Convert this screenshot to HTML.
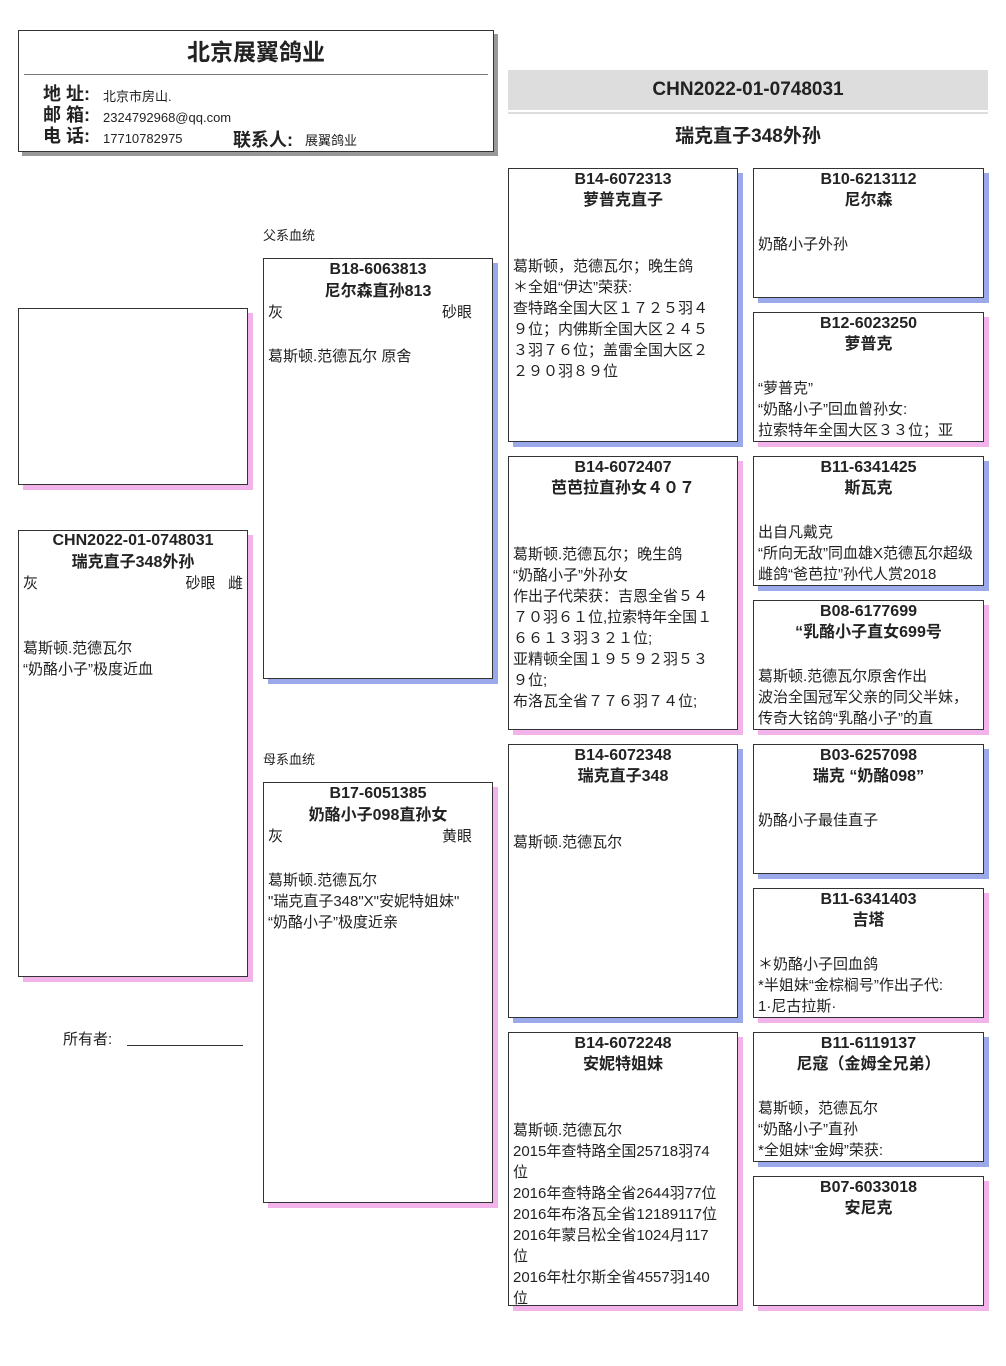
<!DOCTYPE html>
<html><head><meta charset="utf-8"><style>
body{margin:0;width:1006px;height:1366px;position:relative;background:#fff;font-family:"Liberation Sans","Noto Sans CJK SC",sans-serif;color:#222;overflow:hidden}
.b{position:absolute;border:1px solid #333;background:#fff;box-sizing:border-box;overflow:hidden}
.m{box-shadow:5px 5px 0 #9ba8ea}
.f{box-shadow:5px 5px 0 #f1b3ea}
.h{position:absolute;left:0;right:0;text-align:center;font-weight:bold;font-size:16px;line-height:21px}
.t{position:absolute;left:4px;right:4px;font-size:15px;line-height:21px}
.c3 .t{right:16px}
.c4 .t{right:9px}
.a{position:absolute;font-size:13px}
</style></head><body>

<div class="b" style="left:18px;top:30px;width:476px;height:122px;box-shadow:4px 4px 0 #999">
 <div style="position:absolute;left:0;right:0;top:2px;text-align:center;font-weight:bold;font-size:23px">北京展翼鸽业</div>
 <div style="position:absolute;left:5px;right:5px;top:43px;border-top:1px solid #777"></div>
 <div style="position:absolute;left:24px;top:53px;font-size:18px;line-height:21px;font-weight:bold">地 址:<br>邮 箱:<br>电 话:</div>
 <div style="position:absolute;left:84px;top:55px;font-size:13px;line-height:21px">北京市房山.<br>2324792968@qq.com<br>17710782975</div>
 <div style="position:absolute;left:214px;top:95px;font-size:18px;font-weight:bold">联系人:</div>
 <div style="position:absolute;left:286px;top:99px;font-size:13px">展翼鸽业</div>
</div>

<div style="position:absolute;left:508px;top:70px;width:480px;height:40px;background:#ddd;text-align:center;font-weight:bold;font-size:19px;line-height:40px">CHN2022-01-0748031</div>
<div style="position:absolute;left:508px;top:112px;width:480px;height:2px;background:#ddd"></div>
<div style="position:absolute;left:508px;top:121px;width:480px;text-align:center;font-weight:bold;font-size:19px">瑞克直子348外孙</div>

<div class="b f" style="left:18px;top:308px;width:230px;height:177px"></div>

<div class="b f" style="left:18px;top:530px;width:230px;height:447px">
 <div class="h" style="top:-1px">CHN2022-01-0748031</div>
 <div class="h" style="top:21px">瑞克直子348外孙</div>
 <div class="t" style="top:42px">灰<span style="position:absolute;right:0">砂眼&nbsp;&nbsp;&nbsp;雌</span></div>
 <div class="t" style="top:107px">葛斯顿.范德瓦尔<br>“奶酪小子”极度近血</div>
</div>
<div style="position:absolute;left:63px;top:1028px;font-size:15px">所有者:</div>
<div style="position:absolute;left:127px;top:1045px;width:116px;border-top:1px solid #333"></div>

<div class="a" style="left:263px;top:225px">父系血统</div>
<div class="b m" style="left:263px;top:258px;width:230px;height:421px">
 <div class="h" style="top:0">B18-6063813</div>
 <div class="h" style="top:22px">尼尔森直孙813</div>
 <div class="t" style="top:43px">灰<span style="position:absolute;right:16px">砂眼</span></div>
 <div class="t" style="top:87px">葛斯顿.范德瓦尔 原舍</div>
</div>
<div class="a" style="left:263px;top:749px">母系血统</div>
<div class="b f" style="left:263px;top:782px;width:230px;height:421px">
 <div class="h" style="top:0">B17-6051385</div>
 <div class="h" style="top:22px">奶酪小子098直孙女</div>
 <div class="t" style="top:43px">灰<span style="position:absolute;right:16px">黄眼</span></div>
 <div class="t" style="top:87px">葛斯顿.范德瓦尔<br>"瑞克直子348"X"安妮特姐妹"<br>“奶酪小子”极度近亲</div>
</div>

<div class="c3">
<div class="b m" style="left:508px;top:168px;width:230px;height:274px">
 <div class="h" style="top:0">B14-6072313</div><div class="h" style="top:21px">萝普克直子</div>
 <div class="t" style="top:87px">葛斯顿，范德瓦尔；晚生鸽<br>＊全姐“伊达”荣获:<br>查特路全国大区１７２５羽４９位；内佛斯全国大区２４５３羽７６位；盖雷全国大区２２９０羽８９位</div>
</div>
<div class="b f" style="left:508px;top:456px;width:230px;height:274px">
 <div class="h" style="top:0">B14-6072407</div><div class="h" style="top:21px">芭芭拉直孙女４０７</div>
 <div class="t" style="top:87px">葛斯顿.范德瓦尔；晚生鸽<br>“奶酪小子”外孙女<br>作出子代荣获：吉恩全省５４７０羽６１位,拉索特年全国１６６１３羽３２１位;<br>亚精顿全国１９５９２羽５３９位;<br>布洛瓦全省７７６羽７４位;</div>
</div>
<div class="b m" style="left:508px;top:744px;width:230px;height:274px">
 <div class="h" style="top:0">B14-6072348</div><div class="h" style="top:21px">瑞克直子348</div>
 <div class="t" style="top:87px">葛斯顿.范德瓦尔</div>
</div>
<div class="b f" style="left:508px;top:1032px;width:230px;height:274px">
 <div class="h" style="top:0">B14-6072248</div><div class="h" style="top:21px">安妮特姐妹</div>
 <div class="t" style="top:87px">葛斯顿.范德瓦尔<br>2015年查特路全国25718羽74位<br>2016年查特路全省2644羽77位<br>2016年布洛瓦全省12189117位<br>2016年蒙吕松全省1024月117位<br>2016年杜尔斯全省4557羽140位</div>
</div>
</div>

<div class="c4">
<div class="b m" style="left:753px;top:168px;width:231px;height:130px">
 <div class="h" style="top:0">B10-6213112</div><div class="h" style="top:21px">尼尔森</div>
 <div class="t" style="top:65px">奶酪小子外孙</div>
</div>
<div class="b f" style="left:753px;top:312px;width:231px;height:130px">
 <div class="h" style="top:0">B12-6023250</div><div class="h" style="top:21px">萝普克</div>
 <div class="t" style="top:65px">“萝普克”<br>“奶酪小子”回血曾孙女:<br>拉索特年全国大区３３位；亚</div>
</div>
<div class="b m" style="left:753px;top:456px;width:231px;height:130px">
 <div class="h" style="top:0">B11-6341425</div><div class="h" style="top:21px">斯瓦克</div>
 <div class="t" style="top:65px">出自凡戴克<br>“所向无敌”同血雄X范德瓦尔超级雌鸽“爸芭拉”孙代人赏2018</div>
</div>
<div class="b f" style="left:753px;top:600px;width:231px;height:130px">
 <div class="h" style="top:0">B08-6177699</div><div class="h" style="top:21px">“乳酪小子直女699号</div>
 <div class="t" style="top:65px">葛斯顿.范德瓦尔原舍作出<br>波治全国冠军父亲的同父半妹，传奇大铭鸽“乳酪小子”的直</div>
</div>
<div class="b m" style="left:753px;top:744px;width:231px;height:130px">
 <div class="h" style="top:0">B03-6257098</div><div class="h" style="top:21px">瑞克 “奶酪098”</div>
 <div class="t" style="top:65px">奶酪小子最佳直子</div>
</div>
<div class="b f" style="left:753px;top:888px;width:231px;height:130px">
 <div class="h" style="top:0">B11-6341403</div><div class="h" style="top:21px">吉塔</div>
 <div class="t" style="top:65px">＊奶酪小子回血鸽<br>*半姐妹“金棕榈号”作出子代:<br>1·尼古拉斯·</div>
</div>
<div class="b m" style="left:753px;top:1032px;width:231px;height:130px">
 <div class="h" style="top:0">B11-6119137</div><div class="h" style="top:21px">尼寇（金姆全兄弟）</div>
 <div class="t" style="top:65px">葛斯顿，范德瓦尔<br>“奶酪小子”直孙<br>*全姐妹“金姆”荣获:</div>
</div>
<div class="b f" style="left:753px;top:1176px;width:231px;height:130px">
 <div class="h" style="top:0">B07-6033018</div><div class="h" style="top:21px">安尼克</div>
</div>
</div>
</body></html>
